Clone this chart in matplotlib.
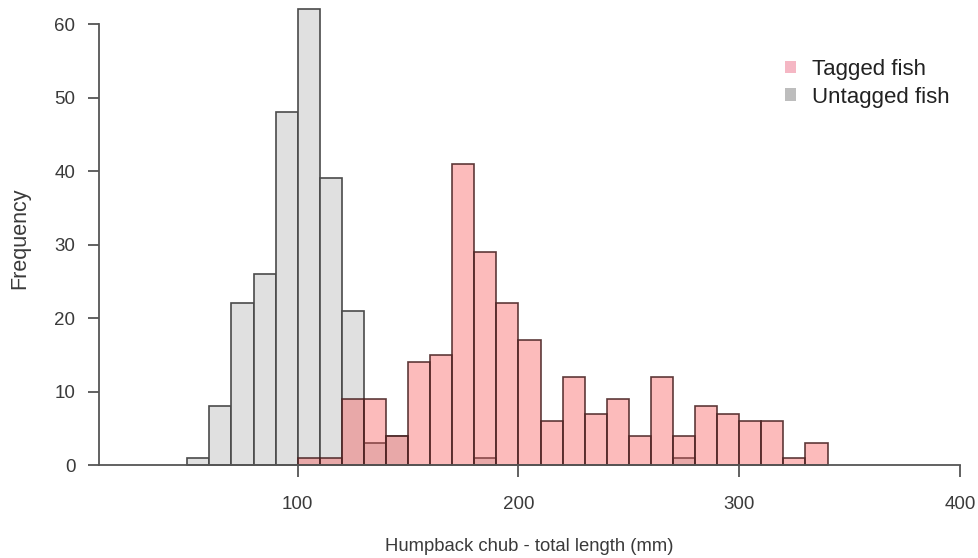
import matplotlib
matplotlib.use("Agg")
import matplotlib.pyplot as plt
from matplotlib.patches import Patch

plt.rcParams['font.family'] = ['Liberation Sans', 'DejaVu Sans']

bin_width = 10
untagged_starts = [50, 60, 70, 80, 90, 100, 110, 120, 130, 140, 180, 270]
untagged_counts = [1, 8, 22, 26, 48, 62, 39, 21, 3, 4, 1, 1]

tagged_starts = [100, 110, 120, 130, 140, 150, 160, 170, 180, 190, 200, 210, 220,
                 230, 240, 250, 260, 270, 280, 290, 300, 310, 320, 330]
tagged_counts = [1, 1, 9, 9, 4, 14, 15, 41, 29, 22, 17, 6, 12,
                 7, 9, 4, 12, 4, 8, 7, 6, 6, 1, 3]

x_ticks = [100, 200, 300, 400]
y_ticks = [0, 10, 20, 30, 40, 50, 60]
legend_labels = ["Tagged fish", "Untagged fish"]

fig = plt.figure(figsize=(9.79, 5.58), dpi=100)
ax = fig.add_axes([99/979, 93/558, 861/979, 463/558])

ax.bar(untagged_starts, untagged_counts, width=bin_width, align='edge',
       color='#e0e0e0', edgecolor='#4a4a4a', linewidth=1.2, clip_on=False)
ax.bar(tagged_starts, tagged_counts, width=bin_width, align='edge',
       color=(0.97, 0.27, 0.27, 0.36), edgecolor=(0.3, 0.15, 0.15, 0.9),
       linewidth=1.2, clip_on=False)

ax.set_xlim(10, 400)
ax.set_ylim(0, 63)
ax.spines['top'].set_visible(False)
ax.spines['right'].set_visible(False)
ax.spines['left'].set_bounds(0, 60)
ax.spines['bottom'].set_bounds(10, 400)
for s in ('left', 'bottom'):
    ax.spines[s].set_color('#555555')
    ax.spines[s].set_linewidth(1.3)

ax.set_xticks(x_ticks)
ax.set_yticks(y_ticks)
ax.tick_params(axis='x', length=8.5, width=1.3, color='#555555', pad=14,
               labelsize=13.5, labelcolor='#3a3a3a')
ax.tick_params(axis='y', length=8, width=1.3, color='#555555', pad=9,
               labelsize=13.5, labelcolor='#3a3a3a')

ax.set_xlabel("Humpback chub - total length (mm)", fontsize=13.3, color='#3a3a3a', labelpad=18)
ax.set_ylabel("Frequency", fontsize=15.5, color='#3a3a3a', labelpad=16)
ax.yaxis.set_label_coords(-0.08, 0.49)

handles = [Patch(facecolor='#f5b7c4', edgecolor='none'),
           Patch(facecolor='#bdbdbd', edgecolor='none')]
ax.legend(handles, legend_labels, loc='upper left', bbox_to_anchor=(785/979, 1 - 59/558),
          bbox_transform=fig.transFigure, frameon=False, fontsize=16,
          handlelength=0.5, handleheight=0.5, handletextpad=0.7, labelspacing=0.3,
          labelcolor='#222222', borderaxespad=0, borderpad=0)

fig.savefig("out.png", dpi=100)
